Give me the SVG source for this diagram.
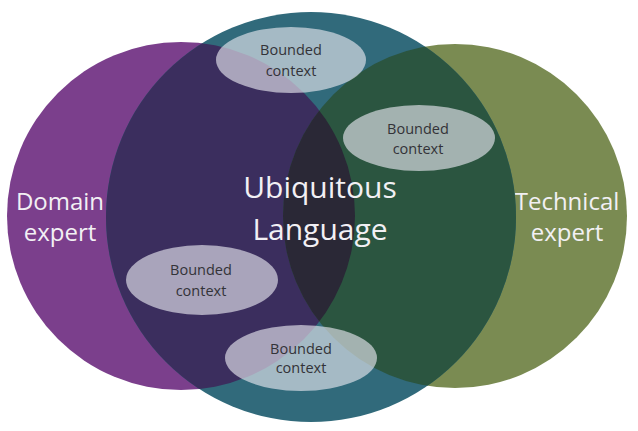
<svg xmlns="http://www.w3.org/2000/svg" width="638" height="431" viewBox="0 0 638 431">
<style>
.big{font-family:"Open Sans","Noto Sans","Liberation Sans",sans-serif;fill:#f2f0f4;text-anchor:middle}
.bc{font-family:"Open Sans","Noto Sans","Liberation Sans",sans-serif;font-size:14.5px;fill:#333338;text-anchor:middle}
.ell{fill:#e8e8f0;fill-opacity:0.64}
</style>
<defs>
<clipPath id="cpP"><circle cx="181" cy="216" r="174"/></clipPath>
<clipPath id="cpG"><circle cx="455" cy="216" r="172"/></clipPath>
<clipPath id="cpT"><circle cx="311" cy="217" r="205"/></clipPath>
</defs>
<rect width="638" height="431" fill="#ffffff"/>
<g id="domain-expert">
<circle cx="181" cy="216" r="174" fill="#7b3f8c"/>
<text class="big" x="60" y="210" font-size="24">Domain</text>
<text class="big" x="60" y="241" font-size="24">expert</text>
</g>
<g id="technical-expert">
<circle cx="455" cy="216" r="172" fill="#7a8b52"/>
<text class="big" x="567" y="210" font-size="24">Technical</text>
<text class="big" x="567" y="241" font-size="24">expert</text>
</g>
<g id="ubiquitous-language">
<circle cx="311" cy="217" r="205" fill="#316a7b"/>
<g clip-path="url(#cpT)">
<circle cx="181" cy="216" r="174" fill="#3b2e5e"/>
<circle cx="455" cy="216" r="172" fill="#2b5540"/>
<g clip-path="url(#cpP)"><circle cx="455" cy="216" r="172" fill="#2a2836"/></g>
</g>
<text class="big" x="320" y="198" font-size="30">Ubiquitous</text>
<text class="big" x="320" y="240" font-size="30">Language</text>
</g>
<g id="bc-top">
<ellipse class="ell" cx="291" cy="60" rx="75" ry="33"/>
<text class="bc" x="291" y="55">Bounded</text>
<text class="bc" x="291" y="76">context</text>
</g>
<g id="bc-right">
<ellipse class="ell" cx="419" cy="138" rx="76" ry="33"/>
<text class="bc" x="418" y="134">Bounded</text>
<text class="bc" x="418" y="154">context</text>
</g>
<g id="bc-left">
<ellipse class="ell" cx="202" cy="280" rx="76" ry="35"/>
<text class="bc" x="201" y="275">Bounded</text>
<text class="bc" x="201" y="296">context</text>
</g>
<g id="bc-bottom">
<ellipse class="ell" cx="301" cy="358" rx="76" ry="33"/>
<text class="bc" x="301" y="354">Bounded</text>
<text class="bc" x="301" y="373">context</text>
</g>
</svg>
